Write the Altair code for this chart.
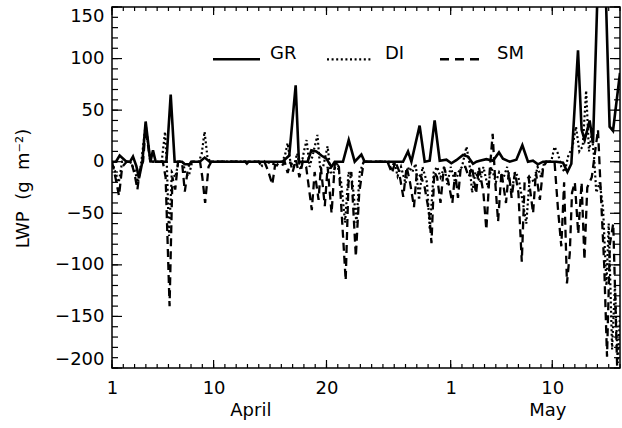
import altair as alt
import pandas as pd

# ---------------- data (day 1 = 1 April, day 31 = 1 May) ----------------
series_names = ["GR", "DI", "SM"]

gr_day = [1.0, 1.35, 1.68, 2.28, 2.6, 2.86, 3.15, 3.39, 3.69, 3.98, 4.40, 4.63, 4.87,
          5.82, 6.20, 6.55, 7.2, 7.44, 7.88, 8.1, 8.77, 9.21, 9.65, 16.1, 16.7, 17.27,
          17.56, 18.33, 18.66, 19.10, 19.55, 19.99, 20.43, 20.73, 21.46, 21.97, 22.50,
          23.09, 23.38, 26.78, 27.22, 27.52, 28.25, 28.70, 29.14, 29.58, 30.03, 30.62,
          31.06, 31.50, 32.09, 32.53, 32.98, 33.28, 33.57, 34.16, 34.75, 35.28, 35.63,
          36.23, 36.82, 37.35, 37.85, 38.29, 38.73, 39.18, 40.36, 40.95, 41.34, 41.69,
          42.28, 42.6, 42.87, 43.31, 43.61, 44.38, 45.08, 45.38, 46.0]
gr_val = [0, 0, 6, 0, 0, 5, -4, -16, 0, 39, 0, 11, 0,
          0, 65, 0, 0, -2.5, -2.5, 0, 0, 4, 0, 0, 6, 74,
          0, 0, 11, 10, 6, 3, -5, 0, 0, 21, 0,
          7, 0, 0, 10, 0, 35, 0, 1, 40, 1, 2,
          -1.5, 1.5, 6.5, 5, -2, 0, 1, 2.5, 1, 9, 3,
          0, 2, 16, 0, 1, -2.5, 0, 0, -1, -10, -2,
          108, 31, 21, 40, 18, 300, 34, 30, 86]

di_day = [1.0, 1.3, 1.6, 1.9, 2.6, 3.0, 3.3, 3.6, 3.98, 4.4, 5.4, 5.7, 5.85, 6.05, 6.3,
          6.6, 6.9, 7.3, 7.5, 7.8, 8.1, 8.7, 8.95, 9.2, 9.45, 9.7, 14.0, 14.3, 14.6,
          15.6, 16.0, 16.3, 16.56, 16.8, 17.1, 17.4, 17.7, 18.0, 18.24, 18.5, 18.75,
          19.2, 19.45, 19.7, 20.1, 20.35, 20.6, 20.9, 21.3, 21.65, 21.95, 22.3, 22.65,
          22.95, 23.3, 25.5, 25.75, 26.0, 26.3, 26.6, 27.0, 27.3, 27.6, 27.9, 28.2,
          28.5, 28.9, 29.15, 29.5, 29.8, 30.1, 30.45, 30.7, 31.0, 31.4, 31.7, 32.0,
          32.4, 32.65, 32.9, 33.2, 33.6, 33.9, 34.3, 34.6, 35.0, 35.3, 35.7, 36.0,
          36.4, 36.7, 37.0, 37.4, 37.7, 38.0, 38.4, 38.7, 39.0, 39.3, 39.9, 40.2,
          40.5, 40.8, 41.1, 41.4, 41.8, 42.1, 42.4, 42.7, 43.0, 43.25, 43.5, 43.7,
          43.9, 44.2, 44.5, 44.8, 45.0, 45.3, 45.55, 45.8, 46.0]
di_val = [0, -10, -20, 0, 0, -8, -20, 0, 36, 0, 0, 29, 0, -72, -10,
          -15, 0, 0, -12, -14, 0, 0, 8, 29, 5, 0, 0, -4, 0,
          -3, 0, 5, 18, 0, -5, 8, -8, 10, 21, -5, 5,
          26, -8, -5, 15, -10, -12, 0, -20, -59, -10, -20, -59,
          -10, 0, 0, -8, 0, -14, -5, -21, -5, -10, -2, -37,
          -5, -20, -66, -10, -5, -15, -5, -22, -5, -20, -10, -5,
          14.5, 0, -30, -10, -20, -5, -25, -5, -20, -10, -15, -5,
          -30, -10, -15, -40, -60, -15, -20, -5, -15, 0, 0, 14.5,
          8, -5, -10, 5, 15, 34, 10, 15, 69, 10, 27, 5,
          -30, -20, -45, -120, -60, -182, -120, -195, -150]

sm_day = [1.0, 1.3, 1.62, 1.9, 2.3, 2.7, 3.0, 3.25, 3.5, 3.75, 3.98, 4.4, 5.5, 5.75,
          6.1, 6.35, 6.6, 6.85, 7.2, 7.45, 7.75, 8.0, 8.8, 9.0, 9.25, 9.55, 9.8,
          12.8, 12.95, 13.1, 14.0, 14.17, 14.5, 14.8, 15.2, 15.45, 16.0, 16.3, 16.56,
          16.8, 17.0, 17.3, 17.6, 17.9, 18.2, 18.7, 18.95, 19.3, 19.5, 19.85, 20.1,
          20.45, 20.75, 21.1, 21.4, 21.7, 21.95, 22.2, 22.6, 22.9, 23.3, 25.4, 25.8,
          26.1, 26.4, 26.8, 27.1, 27.4, 27.75, 28.0, 28.4, 28.7, 29.1, 29.3, 29.55,
          29.8, 30.1, 30.4, 30.8, 31.15, 31.4, 31.65, 31.9, 32.3, 32.6, 32.9, 33.25,
          33.5, 33.9, 34.16, 34.45, 34.72, 34.95, 35.2, 35.5, 35.9, 36.15, 36.4, 36.7,
          37.0, 37.3, 37.55, 37.9, 38.3, 38.55, 38.9, 39.2, 39.5, 40.2, 40.5, 40.8,
          41.05, 41.3, 41.55, 41.75, 42.0, 42.3, 42.6, 42.85, 43.1, 43.5, 44.05, 44.3,
          44.6, 44.85, 45.1, 45.4, 45.8, 46.0]
sm_val = [0, -15, -33, -5, 0, 0, -12, -27, -5, 0, 32, 0, 0, -15,
          -140, -15, -27, 0, 0, -29, -5, 0, 0, -15, -40, -5, 0,
          0, -2, 0, 0, -3, 0, -8, -22, -3, -5, 0, -11,
          0, -10, 2, -15, 0, -5, -47, -10, -37, -5, -43, -5,
          -50, 0, -5, -60, -115, -20, -10, -92, -30, 0, 0, -11,
          0, -8, -34, -5, -20, -44, -10, -15, -25, -50, -79, -10,
          -15, -40, -5, -20, -40, -10, -35, -5, -5, -15, -5, -31,
          -5, -30, -66, -10, 27, -20, -58, -10, -40, -10, -35, -10,
          -30, -97, -20, -15, -50, -10, -37, -5, 0, 0, -45, -82,
          -20, -118, -89, -30, -20, -70, -20, -95, -25, -15, 31, -30,
          -100, -189, -80, -60, -220, -210]

x_tick_values = [1, 10, 20, 31, 40]
y_tick_values = [-200, -150, -100, -50, 0, 50, 100, 150]
month_names = ["April", "May"]
month_days = [13.3, 39.6]

# ---------------- build tables ----------------
gr_df = pd.DataFrame({"day": gr_day, "lwp": gr_val, "series": series_names[0]})
di_df = pd.DataFrame({"day": di_day, "lwp": di_val, "series": series_names[1]})
sm_df = pd.DataFrame({"day": sm_day, "lwp": sm_val, "series": series_names[2]})

W, H = 508, 361
FONT = "DejaVu Sans"
NBSP = "\u00a0"

x_scale = alt.Scale(domain=[1, 46], nice=False, zero=False)
y_scale = alt.Scale(domain=[-200, 150], nice=False, zero=False)

x_axis = alt.Axis(values=x_tick_values,
                  labelExpr="datum.value > 30 ? datum.value - 30 : datum.value",
                  ticks=False, domain=False, grid=False, labelFontSize=18, labelFont=FONT,
                  labelColor="black", labelPadding=11, labelFlush=False, title=None)
y_axis = alt.Axis(values=y_tick_values, ticks=False, domain=False, grid=False,
                  labelFontSize=18, labelFont=FONT, labelColor="black", labelPadding=8,
                  labelFlush=True,
                  title="LWP" + NBSP * 2 + "(g" + NBSP * 2 + "m\u207b\u00b2)",
                  titleFont=FONT, titleFontSize=18, titleFontWeight="normal",
                  titleColor="black", titleX=-89, titleY=181, titleAngle=270,
                  titleAlign="center", titleBaseline="middle")

X = alt.X("day:Q", scale=x_scale, axis=x_axis)
Y = alt.Y("lwp:Q", scale=y_scale, axis=y_axis)


def series_line(df, **style):
    return alt.Chart(df).mark_line(color="black", clip=True, **style).encode(
        x=X, y=Y, order=alt.Order("day:Q"))


sm_line = series_line(sm_df, strokeWidth=2.3, strokeDash=[8, 5])
di_line = series_line(di_df, strokeWidth=2.2, strokeDash=[2, 2.6])
gr_line = series_line(gr_df, strokeWidth=2.6)

# ---------------- inward ticks on all four sides ----------------
day_ticks = pd.DataFrame({"day": list(range(1, 47))})
day_major = pd.DataFrame({"day": x_tick_values})
val_ticks = pd.DataFrame({"lwp": list(range(-200, 151, 10))})
val_major = pd.DataFrame({"lwp": y_tick_values})


def xticks(df, length):
    bottom = alt.Chart(df).mark_rule(color="black", strokeWidth=1.2).encode(
        x=X, y=alt.value(H), y2=alt.value(H - length))
    top = alt.Chart(df).mark_rule(color="black", strokeWidth=1.2).encode(
        x=X, y=alt.value(0), y2=alt.value(length))
    return [bottom, top]


def yticks(df, length):
    left = alt.Chart(df).mark_rule(color="black", strokeWidth=1.2).encode(
        y=Y, x=alt.value(0), x2=alt.value(length))
    right = alt.Chart(df).mark_rule(color="black", strokeWidth=1.2).encode(
        y=Y, x=alt.value(W), x2=alt.value(W - length))
    return [left, right]


tick_layers = xticks(day_ticks, 4) + xticks(day_major, 8) + yticks(val_ticks, 6) + yticks(val_major, 10)

# ---------------- month labels ----------------
month_df = pd.DataFrame({"day": month_days, "month": month_names})
months = alt.Chart(month_df).mark_text(font=FONT, fontSize=18, color="black",
                                       baseline="middle", align="center").encode(
    x=X, y=alt.value(404), text="month:N")

# ---------------- legend ----------------
def legend_entry(name, x0, x1, tx, **style):
    d = pd.DataFrame({"label": [name]})
    seg = alt.Chart(d).mark_rule(color="black", **style).encode(
        x=alt.value(x0), x2=alt.value(x1), y=alt.value(52.3))
    txt = alt.Chart(d).mark_text(font=FONT, fontSize=18, color="black", align="left",
                                 baseline="alphabetic").encode(
        x=alt.value(tx), y=alt.value(52.3), text="label:N")
    return [seg, txt]


legend_layers = (legend_entry(series_names[0], 101, 148, 158, strokeWidth=2.6)
                 + legend_entry(series_names[1], 215, 259, 273, strokeWidth=2.2,
                                strokeDash=[2, 2.6])
                 + legend_entry(series_names[2], 328, 368, 385, strokeWidth=2.4,
                                strokeDash=[9, 6]))

chart = alt.layer(gr_line, di_line, sm_line, *tick_layers, months, *legend_layers).properties(
    width=W, height=H,
    padding={"left": 112, "right": 2, "top": 7, "bottom": 60},
    autosize=alt.AutoSizeParams(type="none"),
    background="white",
).configure_view(stroke="black", strokeWidth=1.5)

chart.save("out.html", embed_options={"renderer": "svg", "actions": False})
